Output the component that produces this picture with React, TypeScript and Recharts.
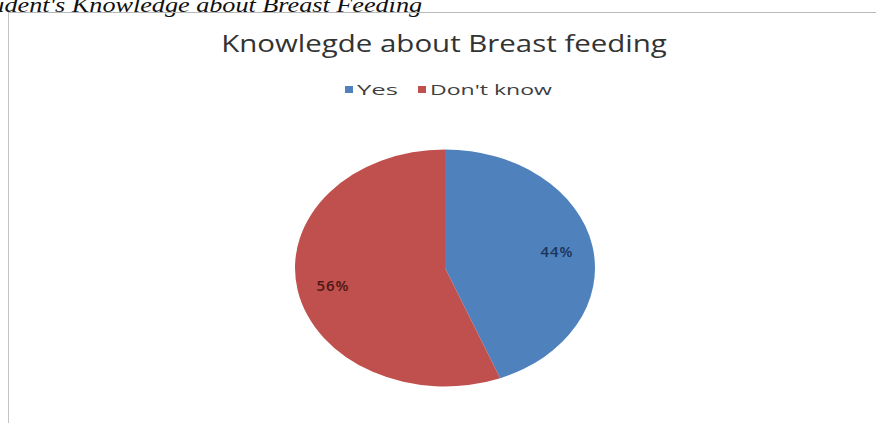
import React from 'react';
import { PieChart, Pie, Cell, Legend } from 'recharts';

const categories = ['Yes', "Don't know"];
const shares = [44, 56];
const sliceColors = ['#4F81BD', '#C0504D'];
const labelColors = ['#1B3558', '#4E1614'];

const chartData = categories.map((name, i) => ({ name, value: shares[i] }));

const RAD = Math.PI / 180;
const Y_SQUASH = 0.79; // the original pie is drawn as an ellipse (stretched picture)
const TEXT_STRETCH = 1.28;

// legend text widths in the stretched original
const legendTextWidths = [41, 122];

const ellipsePoint = (cx: number, cy: number, rx: number, ry: number, a: number) => [
  cx + rx * Math.cos(a * RAD),
  cy - ry * Math.sin(a * RAD),
];

const EllipseSector = (props: any) => {
  const { cx, cy, outerRadius, startAngle, endAngle, fill } = props;
  const rx = outerRadius;
  const ry = outerRadius * Y_SQUASH;
  const [x1, y1] = ellipsePoint(cx, cy, rx, ry, startAngle);
  const [x2, y2] = ellipsePoint(cx, cy, rx, ry, endAngle);
  const large = Math.abs(endAngle - startAngle) > 180 ? 1 : 0;
  const sweep = endAngle < startAngle ? 1 : 0;
  const d = `M${cx},${cy} L${x1},${y1} A${rx},${ry} 0 ${large} ${sweep} ${x2},${y2} Z`;
  return <path d={d} fill={fill} stroke="none" />;
};

const renderLabel = (props: any) => {
  const { cx, cy, midAngle, outerRadius, percent, index } = props;
  const r = outerRadius * 0.76;
  const [x, y] = ellipsePoint(cx, cy, r, r * Y_SQUASH, midAngle);
  return (
    <text
      x={x}
      y={y}
      fill={labelColors[index]}
      textAnchor="middle"
      dominantBaseline="central"
      fontSize={15}
      fontWeight={600}
      letterSpacing={1}
      fontFamily="'Open Sans', sans-serif"
    >
      {`${Math.round(percent * 100)}%`}
    </text>
  );
};

const renderLegend = (props: any) => {
  const { payload } = props;
  let x = 0;
  const items = categories.map((name, i) => {
    const entry = (payload || []).find((p: any) => p.value === name);
    const color = entry ? entry.color : sliceColors[i];
    const startX = x;
    x += 12 + legendTextWidths[i] + 20;
    return (
      <g key={name}>
        <rect x={startX} y={6} width={8} height={7} fill={color} />
        <text
          x={startX + 12}
          y={15}
          fontSize={15}
          fill="#404040"
          fontFamily="'Open Sans', sans-serif"
          textLength={legendTextWidths[i]}
          lengthAdjust="spacingAndGlyphs"
        >
          {name}
        </text>
      </g>
    );
  });
  return (
    <svg width={230} height={22} style={{ display: 'block', overflow: 'visible' }}>
      {items}
    </svg>
  );
};

const App: React.FC = () => {
  return (
    <div
      style={{
        position: 'absolute',
        left: 0,
        top: 0,
        width: 876,
        height: 423,
        overflow: 'hidden',
        background: '#fff',
      }}
    >
      <div
        style={{
          position: 'absolute',
          left: 0,
          top: -6,
          width: 422,
          textAlign: 'right',
          whiteSpace: 'nowrap',
          fontFamily: "'Liberation Serif', serif",
          fontStyle: 'italic',
          fontSize: 22,
          lineHeight: '22px',
          color: '#111',
        }}
      >
        <span style={{ display: 'inline-block', transform: 'scaleX(1.19)', transformOrigin: 'right center' }}>
          Student's Knowledge about Breast Feeding
        </span>
      </div>
      <div
        style={{
          position: 'absolute',
          left: 8,
          top: 12,
          width: 900,
          height: 450,
          borderTop: '1px solid #b8b8b8',
          borderLeft: '1px solid #c4c4c4',
        }}
      />
      <div
        style={{
          position: 'absolute',
          left: 0,
          top: 27,
          width: 888,
          textAlign: 'center',
          fontFamily: "'Open Sans', sans-serif",
          fontSize: 23,
          color: '#333',
          whiteSpace: 'nowrap',
        }}
      >
        <span style={{ display: 'inline-block', transform: `scaleX(${TEXT_STRETCH})`, transformOrigin: 'center' }}>
          Knowlegde about Breast feeding
        </span>
      </div>
      <div style={{ position: 'absolute', left: 0, top: 0 }}>
        <PieChart width={876} height={423} margin={{ top: 0, right: 0, bottom: 0, left: 0 }}>
          <Legend
            verticalAlign="bottom"
            content={renderLegend}
            wrapperStyle={{ top: 80, left: 345, width: 230, bottom: 'auto' }}
          />
          <Pie
            data={chartData}
            dataKey="value"
            nameKey="name"
            cx={445}
            cy={268}
            outerRadius={150}
            startAngle={90}
            endAngle={-270}
            stroke="none"
            labelLine={false}
            label={renderLabel}
            shape={EllipseSector}
            isAnimationActive={false}
          >
            {chartData.map((entry, index) => (
              <Cell key={`cell-${index}`} fill={sliceColors[index]} />
            ))}
          </Pie>
        </PieChart>
      </div>
    </div>
  );
};

export default App;
